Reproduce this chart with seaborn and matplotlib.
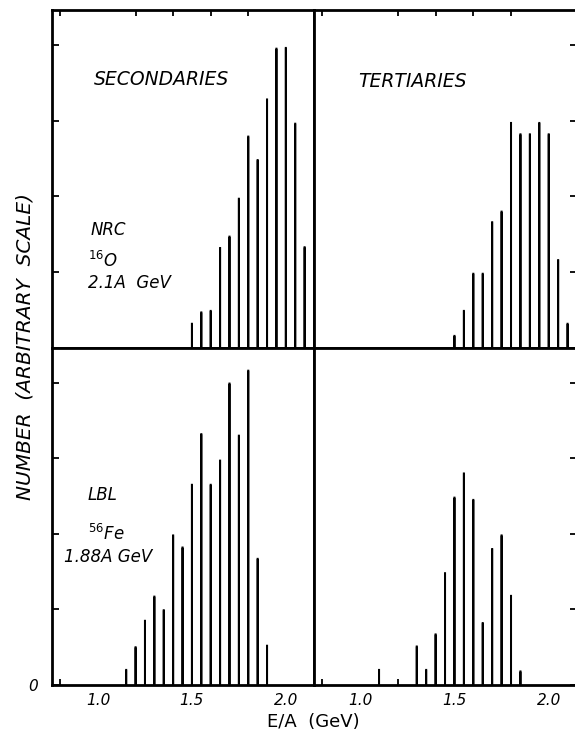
import matplotlib
matplotlib.use("Agg")
import matplotlib.pyplot as plt
from matplotlib.ticker import FixedLocator, MultipleLocator, NullFormatter
import numpy as np
import pandas as pd
import seaborn as sns

# ---- fragment energy spectra (E/A in GeV, counts on an arbitrary scale) ----
sec_nrc_energy = [1.50, 1.55, 1.60, 1.65, 1.70, 1.75, 1.80, 1.85, 1.90, 1.95, 2.00, 2.05, 2.10]
sec_nrc_count = [0.32, 0.47, 0.49, 1.32, 1.47, 1.97, 2.79, 2.48, 3.28, 3.95, 3.96, 2.96, 1.33]

ter_nrc_energy = [1.50, 1.55, 1.60, 1.65, 1.70, 1.75, 1.80, 1.85, 1.90, 1.95, 2.00, 2.05, 2.10]
ter_nrc_count = [0.16, 0.49, 0.98, 0.98, 1.66, 1.80, 2.97, 2.82, 2.82, 2.97, 2.82, 1.16, 0.32]

sec_lbl_energy = [1.15, 1.20, 1.25, 1.30, 1.35, 1.40, 1.45, 1.50, 1.55, 1.60, 1.65, 1.70,
                  1.75, 1.80, 1.85, 1.90]
sec_lbl_count = [0.20, 0.50, 0.85, 1.17, 0.99, 1.98, 1.82, 2.65, 3.32, 2.65, 2.97, 3.99,
                 3.30, 4.16, 1.67, 0.52]

ter_lbl_energy = [1.10, 1.30, 1.35, 1.40, 1.45, 1.50, 1.55, 1.60, 1.65, 1.70, 1.75, 1.80, 1.85]
ter_lbl_count = [0.20, 0.51, 0.20, 0.67, 1.48, 2.48, 2.80, 2.45, 0.82, 1.80, 1.98, 1.18, 0.18]

tick_label_values = [1.0, 1.5, 2.0]
tick_label_text = ["1.0", "1.5", "2.0"]
panel_titles = ["SECONDARIES", "TERTIARIES"]

X_RANGE = (0.755, 2.15)
Y_RANGE = (0.0, 4.46)

sns.set_theme(style="white")
plt.rcParams["font.family"] = ["DejaVu Sans"]
plt.rcParams["mathtext.default"] = "it"
for key in ("text.color", "axes.labelcolor", "xtick.color", "ytick.color"):
    plt.rcParams[key] = "black"

W, H = 575, 738
fig = plt.figure(figsize=(W / 100, H / 100), dpi=100)

left, mid, right = 52 / W, 314 / W, 577 / W
top, hmid, bottom = 1 - 10 / H, 1 - 348 / H, 1 - 685 / H

ax_tl = fig.add_axes([left, hmid, mid - left, top - hmid])
ax_tr = fig.add_axes([mid, hmid, right - mid, top - hmid])
ax_bl = fig.add_axes([left, bottom, mid - left, hmid - bottom])
ax_br = fig.add_axes([mid, bottom, right - mid, hmid - bottom])

panels = [
    (ax_tl, sec_nrc_energy, sec_nrc_count),
    (ax_tr, ter_nrc_energy, ter_nrc_count),
    (ax_bl, sec_lbl_energy, sec_lbl_count),
    (ax_br, ter_lbl_energy, ter_lbl_count),
]

for ax, energy, count in panels:
    df = pd.DataFrame({"energy": energy, "count": count})
    # hairline bars stroked with a fixed-width edge give uniform stems
    sns.barplot(data=df, x="energy", y="count", native_scale=True, orient="x",
                width=0.01, color="black", saturation=1, errorbar=None,
                edgecolor="black", linewidth=1.4, ax=ax)
    for bar in ax.patches:
        bar.set_snap(False)
    ax.set_xlim(*X_RANGE)
    ax.set_ylim(*Y_RANGE)
    ax.set_xlabel("")
    ax.set_ylabel("")
    for s in ax.spines.values():
        s.set_visible(True)
        s.set_linewidth(2.0)
        s.set_color("black")
        s.set_zorder(5)
    ax.set_facecolor("white")

    # labelled positions carry no mark; the 0.2 GeV grid carries the marks
    ax.xaxis.set_major_locator(FixedLocator(tick_label_values))
    ax.xaxis.set_minor_locator(MultipleLocator(0.2))
    ax.yaxis.set_major_locator(FixedLocator([0, 1, 2, 3, 4]))
    ax.tick_params(axis="both", which="both", direction="in", color="black",
                   width=1.3, labelsize=11)
    ax.tick_params(axis="x", which="major", length=0)
    ax.tick_params(axis="x", which="minor", length=4)
    ax.tick_params(axis="y", which="major", length=5)

is_top = {ax_tl: True, ax_tr: True, ax_bl: False, ax_br: False}
is_left = {ax_tl: True, ax_tr: False, ax_bl: True, ax_br: False}

for ax in (ax_tl, ax_tr, ax_bl, ax_br):
    ax.tick_params(axis="x", which="both", top=is_top[ax], bottom=not is_top[ax],
                   labeltop=False, labelbottom=not is_top[ax])
    ax.tick_params(axis="y", which="both", left=is_left[ax], right=not is_left[ax],
                   labelleft=(ax is ax_bl), labelright=False)
    if not is_top[ax]:
        ax.set_xticklabels(tick_label_text, fontstyle="italic", fontsize=11)
        ax.tick_params(axis="x", which="major", pad=6)
    ax.xaxis.set_minor_formatter(NullFormatter())

ax_bl.set_yticklabels(["0", "", "", "", ""], fontstyle="italic", fontsize=11)
ax_bl.tick_params(axis="y", which="major", pad=10)

# panel annotations
txt = dict(fontstyle="italic", color="black", va="baseline", ha="left")
ax_tl.text(0.16, 0.778, panel_titles[0], transform=ax_tl.transAxes, fontsize=13.5, **txt)
ax_tr.text(0.167, 0.772, panel_titles[1], transform=ax_tr.transAxes, fontsize=13.5, **txt)

ax_tl.text(0.149, 0.334, "NRC", transform=ax_tl.transAxes, fontsize=12, **txt)
ax_tl.text(0.137, 0.24, r"$^{16}$O", transform=ax_tl.transAxes, fontsize=12, **txt)
ax_tl.text(0.137, 0.178, "2.1A  GeV", transform=ax_tl.transAxes, fontsize=12, **txt)

ax_bl.text(0.137, 0.549, "LBL", transform=ax_bl.transAxes, fontsize=12, **txt)
ax_bl.text(0.137, 0.43, r"$^{56}$Fe", transform=ax_bl.transAxes, fontsize=12, **txt)
ax_bl.text(0.046, 0.365, "1.88A GeV", transform=ax_bl.transAxes, fontsize=12, **txt)

fig.text(25 / W, 1 - 347 / H, "NUMBER  (ARBITRARY  SCALE)", rotation=90,
         ha="center", va="center", fontsize=14.5, fontstyle="italic")
fig.text(313 / W, 1 - 727 / H, "E/A  (GeV)", ha="center", va="baseline", fontsize=13)

fig.savefig("out.png", dpi=100, facecolor="white")
